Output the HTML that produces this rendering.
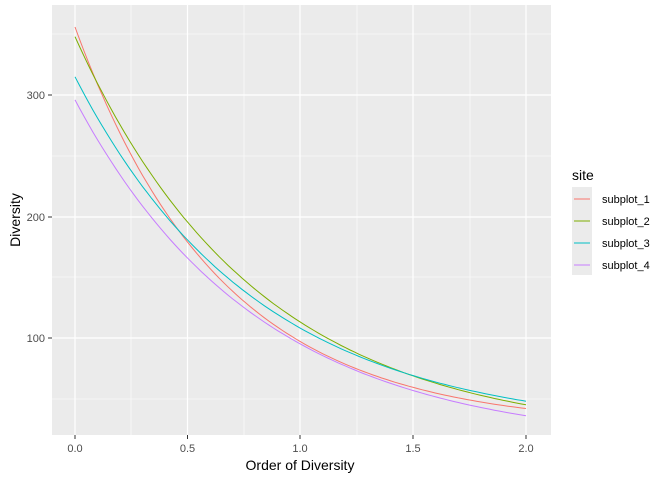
<!DOCTYPE html>
<html><head><meta charset="utf-8"><style>
body{margin:0;background:#fff;}
svg{display:block;font-family:"Liberation Sans",Arial,sans-serif;}
</style></head><body>
<svg id="s" width="672" height="480" viewBox="0 0 672 480">
<rect x="52" y="5" width="499" height="430" fill="#EBEBEB"/>
<g stroke="#fff" stroke-width="0.6">
<line x1="52" x2="551" y1="34" y2="34"/><line x1="52" x2="551" y1="156" y2="156"/><line x1="52" x2="551" y1="277" y2="277"/><line x1="52" x2="551" y1="399" y2="399"/>
<line y1="5" y2="435" x1="131" x2="131"/><line y1="5" y2="435" x1="244" x2="244"/><line y1="5" y2="435" x1="357" x2="357"/><line y1="5" y2="435" x1="470" x2="470"/>
</g>
<g stroke="#fff" stroke-width="1.2">
<line x1="52" x2="551" y1="95" y2="95"/><line x1="52" x2="551" y1="217" y2="217"/><line x1="52" x2="551" y1="338" y2="338"/>
<line y1="5" y2="435" x1="75" x2="75"/><line y1="5" y2="435" x1="187.5" x2="187.5"/><line y1="5" y2="435" x1="300" x2="300"/><line y1="5" y2="435" x1="413" x2="413"/><line y1="5" y2="435" x1="526" x2="526"/>
</g>
<g id="curves" fill="none" stroke-width="1"></g>
<g stroke="#333" stroke-width="1">
<line x1="48" x2="52" y1="95" y2="95"/><line x1="48" x2="52" y1="217" y2="217"/><line x1="48" x2="52" y1="338" y2="338"/>
<line y1="435" y2="439" x1="75" x2="75"/><line y1="435" y2="439" x1="187.5" x2="187.5"/><line y1="435" y2="439" x1="300" x2="300"/><line y1="435" y2="439" x1="413" x2="413"/><line y1="435" y2="439" x1="526" x2="526"/>
</g>
<g font-size="11" fill="#4D4D4D" text-anchor="end">
<text x="45" y="99">300</text><text x="45" y="221">200</text><text x="45" y="342">100</text>
</g>
<g font-size="11" fill="#4D4D4D" text-anchor="middle">
<text x="75" y="452">0.0</text><text x="187.5" y="452">0.5</text><text x="300" y="452">1.0</text><text x="413" y="452">1.5</text><text x="526" y="452">2.0</text>
</g>
<text x="300" y="470" font-size="14" text-anchor="middle" fill="#000">Order of Diversity</text>
<text transform="translate(20,220) rotate(-90)" font-size="14" text-anchor="middle" fill="#000">Diversity</text>
<text x="572" y="180" font-size="14" fill="#000">site</text>
<rect x="572" y="187" width="20" height="88" fill="#EBEBEB"/>
<g stroke-width="1">
<line x1="574" x2="590" y1="199" y2="199" stroke="#F8766D"/>
<line x1="574" x2="590" y1="221" y2="221" stroke="#7CAE00"/>
<line x1="574" x2="590" y1="243" y2="243" stroke="#00BFC4"/>
<line x1="574" x2="590" y1="265" y2="265" stroke="#C77CFF"/>
</g>
<g font-size="11" fill="#000">
<text x="602" y="203">subplot_1</text><text x="602" y="225">subplot_2</text><text x="602" y="247">subplot_3</text><text x="602" y="269">subplot_4</text>
</g>
</svg>
<script>
var S=[["#F8766D",27.1,328.9,1.549],["#7CAE00",17.3,330.7,1.240],["#00BFC4",23.5,291.5,1.238],["#C77CFF",11.5,284.5,1.226]];
var g=document.getElementById("curves"),ns="http://www.w3.org/2000/svg";
S.forEach(function(s){var d="";for(var i=0;i<=100;i++){var q=i/50,v=s[1]+s[2]*Math.exp(-s[3]*q);var x=75+q*225.5,y=338-(v-100)*1.215;d+=(i?"L":"M")+x.toFixed(1)+","+y.toFixed(1);}
var p=document.createElementNS(ns,"path");p.setAttribute("d",d);p.setAttribute("stroke",s[0]);g.appendChild(p);});
</script>
</body></html>
